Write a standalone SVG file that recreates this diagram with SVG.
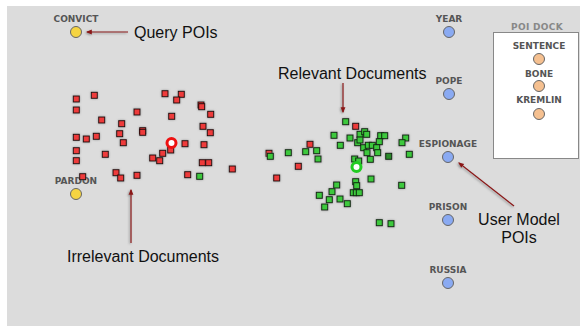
<svg xmlns="http://www.w3.org/2000/svg" width="580" height="326" viewBox="0 0 580 326">
<defs>
<style>
.lbl{font-family:"DejaVu Sans",Verdana,sans-serif;font-weight:bold;font-size:9px;fill:#555;text-anchor:middle}
.dock{fill:#888;letter-spacing:0.3px}
.ann{font-family:"Liberation Sans",Arial,sans-serif;font-size:16px;fill:#111}
.q{fill:#f5d442;stroke:#666;stroke-width:1}
.u{fill:#8aaaf2;stroke:#666;stroke-width:1}
.d{fill:#f5c090;stroke:#666;stroke-width:1}
.r rect{fill:#ee3b3b;stroke:#2a0a0a;stroke-width:1}
.g rect{fill:#3cc83c;stroke:#0f2a0f;stroke-width:1}
.arr{stroke:#8b1414;stroke-width:1.2;fill:none;marker-end:url(#ah)}
</style>
<marker id="ah" viewBox="0 0 10 10" refX="8" refY="5" markerWidth="5" markerHeight="5" orient="auto">
<path d="M0,1 L10,5 L0,9 z" fill="#8b1414"/>
</marker>
<filter id="sh" x="-50%" y="-50%" width="200%" height="200%">
<feDropShadow dx="0" dy="0" stdDeviation="1" flood-color="#777" flood-opacity="0.7"/>
</filter>
<filter id="ash" x="-50%" y="-50%" width="200%" height="200%">
<feDropShadow dx="-1" dy="1" stdDeviation="1.2" flood-color="#555" flood-opacity="0.6"/>
</filter>
</defs>
<rect x="7" y="6" width="573" height="320" fill="#dcdcdc"/>

<g id="dock">
<rect x="493.5" y="32.5" width="85" height="126" fill="#fff" stroke="#888" stroke-width="1"/>
<text class="lbl dock" x="537" y="30">POI DOCK</text>
</g>
<g id="poi-sentence"><text class="lbl" x="539" y="49">SENTENCE</text><circle class="d" cx="539" cy="59" r="5.5"/></g>
<g id="poi-bone"><text class="lbl" x="539" y="77">BONE</text><circle class="d" cx="539" cy="86" r="5.5"/></g>
<g id="poi-kremlin"><text class="lbl" x="539" y="103">KREMLIN</text><circle class="d" cx="539" cy="114" r="5.5"/></g>

<g id="poi-convict"><text class="lbl" x="76" y="22">CONVICT</text><circle class="q" cx="76" cy="32" r="5.5"/></g>
<g id="poi-pardon"><text class="lbl" x="76" y="184">PARDON</text><circle class="q" cx="76" cy="194" r="5.5"/></g>

<g id="poi-year"><text class="lbl" x="449" y="22">YEAR</text><circle class="u" cx="449" cy="32" r="5.5"/></g>
<g id="poi-pope"><text class="lbl" x="449" y="84">POPE</text><circle class="u" cx="449" cy="94" r="5.5"/></g>
<g id="poi-espionage"><text class="lbl" x="448" y="147">ESPIONAGE</text><circle class="u" cx="448" cy="157" r="5.5"/></g>
<g id="poi-prison"><text class="lbl" x="448" y="210">PRISON</text><circle class="u" cx="448" cy="220" r="5.5"/></g>
<g id="poi-russia"><text class="lbl" x="448" y="273">RUSSIA</text><circle class="u" cx="448" cy="283" r="5.5"/></g>

<g id="irrelevant-docs" class="r" filter="url(#sh)">
<rect x="73.3" y="96" width="6" height="6"/>
<rect x="91.3" y="92.3" width="6" height="6"/>
<rect x="73.3" y="107" width="6" height="6"/>
<rect x="162" y="90.7" width="6" height="6"/>
<rect x="178.3" y="91.3" width="6" height="6"/>
<rect x="173.7" y="97" width="6" height="6"/>
<rect x="198" y="102" width="6" height="6"/>
<rect x="198.7" y="103.7" width="6" height="6"/>
<rect x="207.7" y="111.3" width="6" height="6"/>
<rect x="134" y="109" width="6" height="6"/>
<rect x="98.7" y="117" width="6" height="6"/>
<rect x="168.7" y="113.3" width="6" height="6"/>
<rect x="118.7" y="120.7" width="6" height="6"/>
<rect x="200" y="123.3" width="6" height="6"/>
<rect x="139.7" y="127.7" width="6" height="6"/>
<rect x="139.7" y="129.3" width="6" height="6"/>
<rect x="207.3" y="129.7" width="6" height="6"/>
<rect x="73.3" y="134.3" width="6" height="6"/>
<rect x="83.3" y="136" width="6" height="6"/>
<rect x="93.3" y="133.3" width="6" height="6"/>
<rect x="116.7" y="130.7" width="6" height="6"/>
<rect x="120.3" y="139.7" width="6" height="6"/>
<rect x="182" y="140.7" width="6" height="6"/>
<rect x="201" y="141.7" width="6" height="6"/>
<rect x="167.7" y="147" width="6" height="6"/>
<rect x="73.3" y="147.7" width="6" height="6"/>
<rect x="102.3" y="151.3" width="6" height="6"/>
<rect x="159.7" y="150.3" width="6" height="6"/>
<rect x="149.7" y="155" width="6" height="6"/>
<rect x="156.7" y="157.7" width="6" height="6"/>
<rect x="73.3" y="157.7" width="6" height="6"/>
<rect x="199.3" y="159.7" width="6" height="6"/>
<rect x="205.7" y="159.7" width="6" height="6"/>
<rect x="229.3" y="166" width="6" height="6"/>
<rect x="113" y="169.7" width="6" height="6"/>
<rect x="117.7" y="175" width="6" height="6"/>
<rect x="134" y="172.3" width="6" height="6"/>
<rect x="184.7" y="171.7" width="6" height="6"/>
<rect x="79.7" y="173.7" width="6" height="6"/>
<rect x="352.7" y="123.3" width="6" height="6"/>
<rect x="307" y="141.3" width="6" height="6"/>
<rect x="266" y="150.3" width="6" height="6"/>
<rect x="295.3" y="163.3" width="6" height="6"/>
<rect x="273.7" y="175" width="6" height="6"/>
</g>

<g id="relevant-docs" class="g" filter="url(#sh)">
<rect x="196.7" y="173.3" width="6" height="6"/>
<rect x="342.7" y="118.7" width="6" height="6"/>
<rect x="331" y="132.3" width="6" height="6"/>
<rect x="347" y="135" width="6" height="6"/>
<rect x="357" y="131.3" width="6" height="6"/>
<rect x="361.7" y="128.7" width="6" height="6"/>
<rect x="363.7" y="131.3" width="6" height="6"/>
<rect x="377.7" y="132.7" width="6" height="6"/>
<rect x="381.7" y="132.7" width="6" height="6"/>
<rect x="402.7" y="135" width="6" height="6"/>
<rect x="399" y="139.7" width="6" height="6"/>
<rect x="406.3" y="151.3" width="6" height="6"/>
<rect x="376.3" y="138.7" width="6" height="6"/>
<rect x="354.7" y="139.7" width="6" height="6"/>
<rect x="357" y="137" width="6" height="6"/>
<rect x="360.7" y="144.7" width="6" height="6"/>
<rect x="365.3" y="142.3" width="6" height="6"/>
<rect x="369.3" y="142.3" width="6" height="6"/>
<rect x="373.7" y="144.7" width="6" height="6"/>
<rect x="374.7" y="149.7" width="6" height="6"/>
<rect x="364" y="149.7" width="6" height="6"/>
<rect x="367.3" y="156.3" width="6" height="6"/>
<rect x="385.7" y="153.3" width="6" height="6" style="fill:#2a8a2a"/>
<rect x="337.3" y="142.3" width="6" height="6"/>
<rect x="313.7" y="147.7" width="6" height="6"/>
<rect x="302.7" y="148.7" width="6" height="6"/>
<rect x="285.3" y="149.7" width="6" height="6"/>
<rect x="267.3" y="153.3" width="6" height="6"/>
<rect x="315" y="156" width="6" height="6"/>
<rect x="351.7" y="156" width="6" height="6"/>
<rect x="355.7" y="158" width="6" height="6"/>
<rect x="352.7" y="178.7" width="6" height="6"/>
<rect x="353.7" y="182.7" width="6" height="6"/>
<rect x="368" y="176" width="6" height="6"/>
<rect x="398.7" y="182.3" width="6" height="6"/>
<rect x="333.7" y="182" width="6" height="6"/>
<rect x="329" y="188.7" width="6" height="6"/>
<rect x="316.3" y="192.3" width="6" height="6"/>
<rect x="326.3" y="196.7" width="6" height="6"/>
<rect x="337" y="196" width="6" height="6"/>
<rect x="344.3" y="200.7" width="6" height="6"/>
<rect x="321.7" y="204" width="6" height="6"/>
<rect x="350.3" y="189.7" width="6" height="6"/>
<rect x="353.3" y="189.7" width="6" height="6"/>
<rect x="356.3" y="189.7" width="6" height="6"/>
<rect x="376.3" y="219.7" width="6" height="6"/>
<rect x="388" y="220.7" width="6" height="6"/>
</g>

<g id="centroid-irrelevant"><circle cx="171.5" cy="143" r="4.5" fill="#fff" stroke="#ee1111" stroke-width="3"/></g>
<g id="centroid-relevant"><circle cx="356.5" cy="167" r="4.5" fill="#fff" stroke="#22cc22" stroke-width="3"/></g>

<g id="connectors" filter="url(#ash)">
<line class="arr" x1="128" y1="32" x2="87" y2="32"/>
<line class="arr" x1="343" y1="83" x2="343" y2="112"/>
<line class="arr" x1="131" y1="243" x2="131" y2="190"/>
<line class="arr" x1="514" y1="206" x2="459" y2="163"/>
</g>

<g id="annotations">
<text class="ann" x="134" y="38">Query POIs</text>
<text class="ann" x="278" y="79">Relevant Documents</text>
<text class="ann" x="67" y="262">Irrelevant Documents</text>
<text class="ann" x="519" y="225" text-anchor="middle">User Model</text>
<text class="ann" x="519" y="243" text-anchor="middle">POIs</text>
</g>
</svg>
